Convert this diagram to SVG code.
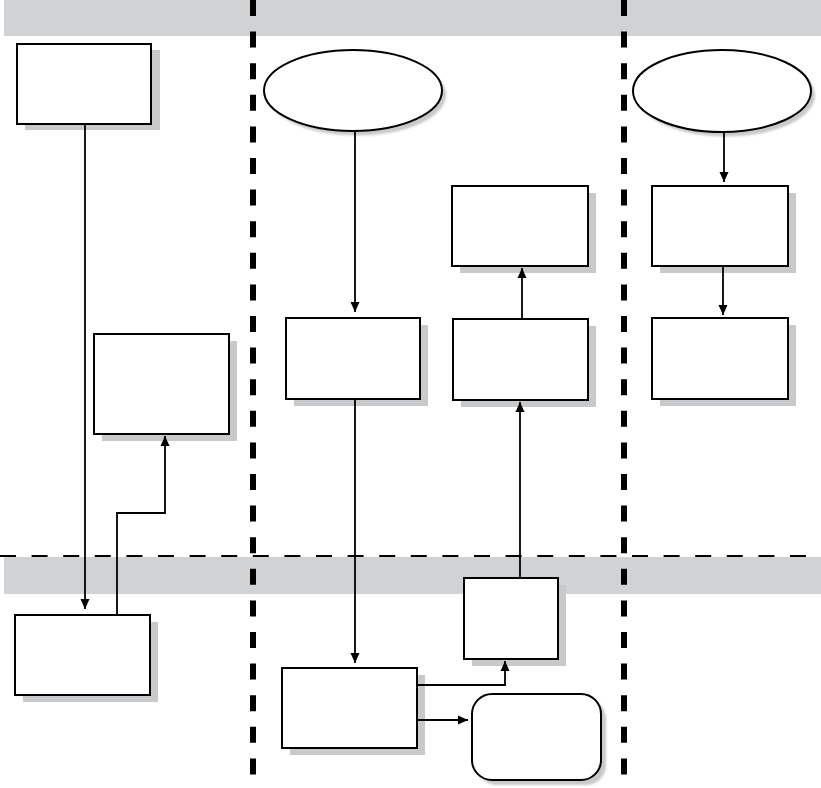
<svg xmlns="http://www.w3.org/2000/svg" width="821" height="788" viewBox="0 0 821 788">
<defs>
<style>
.band{fill:#d1d2d4}
.box{fill:#fff;stroke:#000;stroke-width:2}
.sh{fill:#c8c9cb}
.ln{fill:none;stroke:#000;stroke-width:1.8}
.vdash{stroke:#000;stroke-width:6;stroke-dasharray:16 15.6}
.hdash{stroke:#000;stroke-width:2;stroke-dasharray:16 15.6}
</style>
<marker id="ah" viewBox="0 0 10 10" refX="10" refY="5" markerWidth="10" markerHeight="10" markerUnits="userSpaceOnUse" orient="auto">
<path d="M0,0.5 L10,5 L0,9.5 Z" fill="#000"/>
</marker>
<filter id="blur" x="-10%" y="-10%" width="120%" height="130%"><feGaussianBlur stdDeviation="1.2"/></filter>
</defs>
<rect width="821" height="788" fill="#fff"/>
<g id="lanes">
<rect class="band" x="4" y="0" width="817" height="36"/>
<rect class="band" x="4" y="557" width="817" height="37"/>
<line class="hdash" x1="0" y1="556" x2="806" y2="556"/>
<line class="vdash" x1="253" y1="0" x2="253" y2="775"/>
<line class="vdash" x1="624" y1="0" x2="624" y2="775"/>
</g>
<g id="n1"><rect class="sh" x="25" y="50" width="135" height="80"/><rect class="box" x="17" y="44" width="134" height="80"/></g>
<g id="n2"><rect class="sh" x="102" y="341" width="135" height="100"/><rect class="box" x="94" y="334" width="135" height="100"/></g>
<g id="n3"><rect class="sh" x="23" y="622" width="135" height="80"/><rect class="box" x="15" y="615" width="135" height="80"/></g>
<g id="n4"><ellipse class="sh" cx="357" cy="95" rx="89" ry="40.5" filter="url(#blur)"/><ellipse class="box" cx="353" cy="90.5" rx="89" ry="40.5"/></g>
<g id="n5"><rect class="sh" x="294" y="325" width="134" height="81"/><rect class="box" x="286" y="318" width="134" height="81"/></g>
<g id="n6"><rect class="sh" x="290" y="675" width="135" height="80"/><rect class="box" x="282" y="668" width="135" height="80"/></g>
<g id="n7"><rect class="sh" x="460" y="193" width="136" height="80"/><rect class="box" x="452" y="186" width="136" height="80"/></g>
<g id="n8"><rect class="sh" x="461" y="326" width="135" height="81"/><rect class="box" x="453" y="319" width="135" height="81"/></g>
<g id="n9"><rect class="sh" x="472" y="585" width="94" height="81"/><rect class="box" x="464" y="578" width="94" height="81"/></g>
<g id="n10"><rect class="sh" x="477" y="699" width="129" height="86" rx="20" filter="url(#blur)"/><rect class="box" x="472" y="694" width="129" height="86" rx="20"/></g>
<g id="n11"><ellipse class="sh" cx="726" cy="95.5" rx="89" ry="41" filter="url(#blur)"/><ellipse class="box" cx="722" cy="91" rx="89" ry="41"/></g>
<g id="n12"><rect class="sh" x="660" y="193" width="136" height="80"/><rect class="box" x="652" y="186" width="136" height="80"/></g>
<g id="n13"><rect class="sh" x="660" y="325" width="136" height="81"/><rect class="box" x="652" y="318" width="136" height="81"/></g>
<g id="connectors">
<polyline class="ln" points="85,125 85,609" marker-end="url(#ah)"/>
<polyline class="ln" points="117,614 117,513 165,513 165,436" marker-end="url(#ah)"/>
<polyline class="ln" points="355,132 355,312" marker-end="url(#ah)"/>
<polyline class="ln" points="355,400 355,663" marker-end="url(#ah)"/>
<polyline class="ln" points="520,577 520,402" marker-end="url(#ah)"/>
<polyline class="ln" points="522,318 522,268" marker-end="url(#ah)"/>
<polyline class="ln" points="724,133 724,182" marker-end="url(#ah)"/>
<polyline class="ln" points="723,267 723,315" marker-end="url(#ah)"/>
<polyline class="ln" points="418,685 505,685 505,661" marker-end="url(#ah)"/>
<polyline class="ln" points="418,720 468,720" marker-end="url(#ah)"/>
</g>
</svg>
